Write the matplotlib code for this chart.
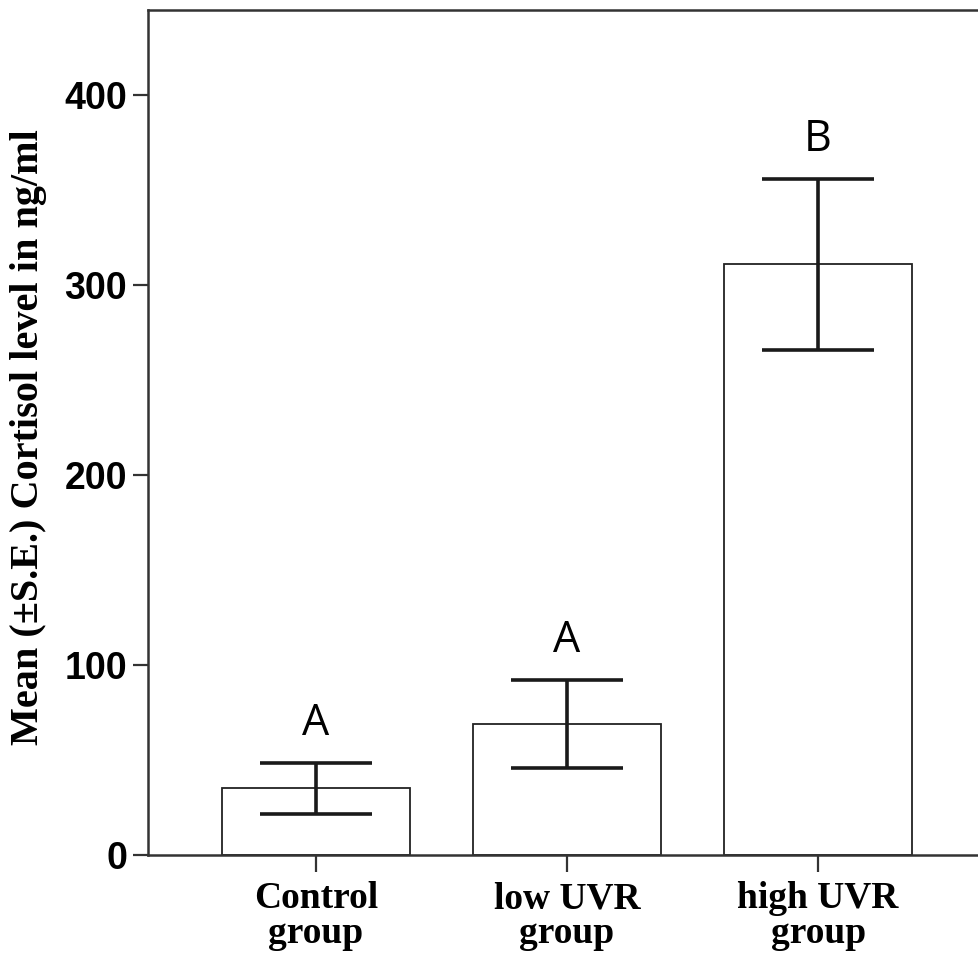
import matplotlib
matplotlib.use('Agg')
import matplotlib.pyplot as plt

# cortisol means and standard errors per treatment group
groups = ['Control\ngroup', 'low UVR\ngroup', 'high UVR\ngroup']
means = [35, 69, 311]
se = [13.5, 23, 45]
letters = ['A', 'A', 'B']
yticks = [0, 100, 200, 300, 400]

fig = plt.figure(figsize=(9.79, 9.55), dpi=100)
ax = fig.add_axes([148/979, 1 - 855/955, 1 - 148/979, 845/955])

x = range(len(groups))
ax.bar(x, means, width=0.75, color='white', edgecolor='#222222', linewidth=1.3, zorder=2)
ax.errorbar(x, means, yerr=se, fmt='none', ecolor='#1a1a1a', elinewidth=2.6,
            capsize=40, capthick=2.6, zorder=3)

for xi, m, s, lab in zip(x, means, se, letters):
    ax.annotate(lab, (xi, m + s), xytext=(0, 20), textcoords='offset points',
                ha='center', va='baseline', fontsize=31, family='Open Sans',
                color='black')

ax.set_xlim(-0.669, 2.641)
ax.set_ylim(0, 444.7)
ax.set_yticks(yticks)
ax.set_yticklabels([str(v) for v in yticks], fontsize=27, fontweight='bold',
                   family='Liberation Sans')
ax.set_xticks(list(x))
ax.set_xticklabels(groups, fontsize=27, fontweight='bold', family='Liberation Serif',
                   linespacing=1.0)

ax.tick_params(axis='y', length=11, width=1.6, color='#333333', pad=4)
ax.tick_params(axis='x', length=12, width=1.6, color='#333333', pad=7)

for side in ['left', 'bottom', 'top']:
    ax.spines[side].set_linewidth(1.8)
    ax.spines[side].set_color('#333333')
ax.spines['right'].set_visible(False)

ax.set_ylabel('Mean (\u00b1S.E.) Cortisol level in ng/ml', fontsize=29,
              fontweight='bold', family='Liberation Serif')
ax.yaxis.set_label_coords(-0.121, 0.495)

fig.savefig('out.png', dpi=100)
